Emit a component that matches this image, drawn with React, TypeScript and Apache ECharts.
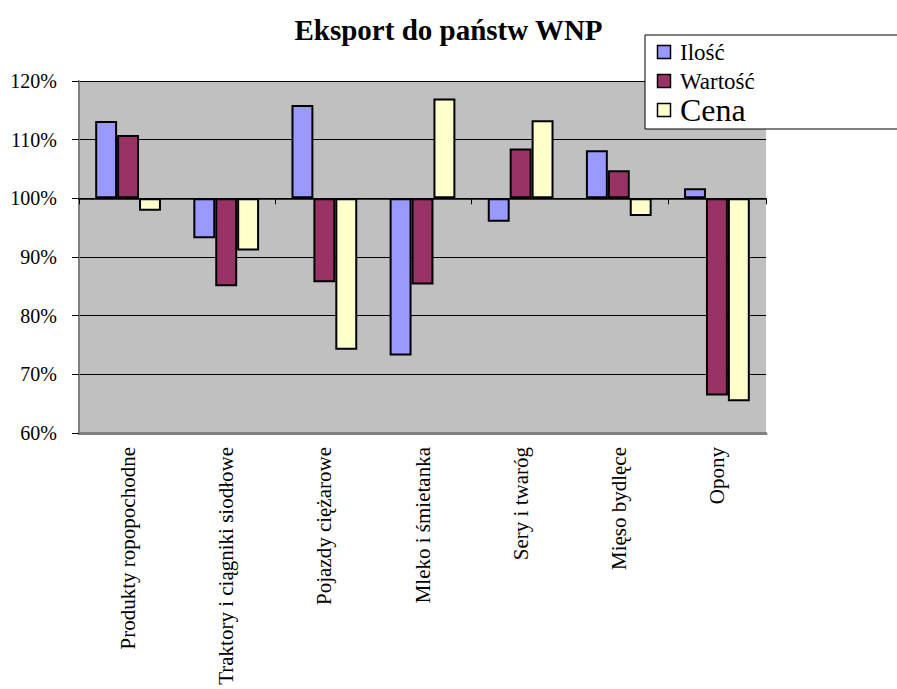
import React, { useEffect, useRef } from "react";
import * as echarts from "echarts";

const categories = [
  "Produkty ropopochodne",
  "Traktory i ciągniki siodłowe",
  "Pojazdy ciężarowe",
  "Mleko i śmietanka",
  "Sery i twaróg",
  "Mięso bydlęce",
  "Opony",
];
const seriesNames = ["Ilość", "Wartość", "Cena"];
const ilosc = [113.2, 93.2, 115.9, 73.2, 96.0, 108.2, 101.7];
const wartosc = [110.8, 85.0, 85.7, 85.3, 108.5, 104.8, 66.4];
const cena = [97.9, 91.1, 74.2, 117.0, 113.3, 97.0, 65.4];
const colors = ["#9999ff", "#993366", "#ffffcc"];
const baseline = 100;

const FONT = "Liberation Serif";

export default function App() {
  const ref = useRef<HTMLDivElement>(null);
  useEffect(() => {
    document.body.style.margin = "0";
    const chart = echarts.init(ref.current!, null, { renderer: "svg" });
    const rel = (arr: number[]) => arr.map((v) => +(v - baseline).toFixed(2));
    const all = [ilosc, wartosc, cena];
    const legendY = [52, 81, 110];
    const legendSize = [23, 23, 32];
    const legendGraphics: any[] = [
      {
        type: "rect",
        shape: { x: 645, y: 35, width: 270, height: 94 },
        style: { fill: "#ffffff", stroke: "#000000", lineWidth: 1 },
        z: 100,
      },
    ];
    seriesNames.forEach((n, i) => {
      legendGraphics.push({
        type: "rect",
        shape: { x: 657.5, y: legendY[i] - 6.5, width: 13, height: 13 },
        style: { fill: colors[i], stroke: "#000000", lineWidth: 1.5 },
        z: 101,
      });
      legendGraphics.push({
        type: "text",
        x: 680,
        y: legendY[i],
        style: {
          text: n,
          fontFamily: FONT,
          fontSize: legendSize[i],
          fill: "#000000",
          textVerticalAlign: "middle",
          textAlign: "left",
        },
        z: 101,
      });
    });

    chart.setOption({
      animation: false,
      backgroundColor: "#ffffff",
      textStyle: { fontFamily: FONT },
      title: {
        text: "Eksport do państw WNP",
        left: "center",
        top: 10,
        textStyle: { fontFamily: FONT, fontSize: 29, fontWeight: "bold", color: "#000000" },
      },
      grid: {
        left: 79,
        top: 81,
        width: 687,
        height: 352,
        show: true,
        backgroundColor: "#c0c0c0",
        borderWidth: 0,
        containLabel: false,
        outerBoundsMode: "none",
      },
      xAxis: [
        {
          type: "category",
          data: categories,
          position: "bottom",
          axisLine: { onZero: false, lineStyle: { color: "#808080", width: 3 } },
          axisTick: { show: false },
          axisLabel: {
            rotate: 90,
            interval: 0,
            margin: 14,
            fontFamily: FONT,
            fontSize: 21,
            color: "#000000",
          },
          splitLine: { show: false },
        },
        {
          type: "category",
          data: categories,
          position: "bottom",
          axisLine: { onZero: true, lineStyle: { color: "#000000", width: 1.5 } },
          axisTick: { show: true, interval: 1, length: 6, inside: false, lineStyle: { color: "#000000", width: 1 } },
          axisLabel: { show: false },
          splitLine: { show: false },
        },
      ],
      yAxis: {
        type: "value",
        min: -40,
        max: 20,
        interval: 10,
        axisLine: { show: true, lineStyle: { color: "#808080", width: 2 } },
        axisTick: { show: true, inside: false, length: 7, lineStyle: { color: "#000000", width: 1 } },
        axisLabel: {
          margin: 22,
          fontFamily: FONT,
          fontSize: 20,
          color: "#000000",
          formatter: (v: number) => `${Math.round(v + baseline)}%`,
        },
        splitLine: { show: true, lineStyle: { color: "#000000", width: 1 } },
      },
      series: seriesNames.map((n, i) => ({
        name: n,
        type: "bar",
        xAxisIndex: 0,
        data: rel(all[i]),
        barGap: "0%",
        barCategoryGap: "33%",
        itemStyle: { color: colors[i], borderColor: "#000000", borderWidth: 2 },
        z: 3,
      })),
      graphic: legendGraphics,
    });
    return () => chart.dispose();
  }, []);
  return <div ref={ref} style={{ width: 897, height: 689 }} />;
}
